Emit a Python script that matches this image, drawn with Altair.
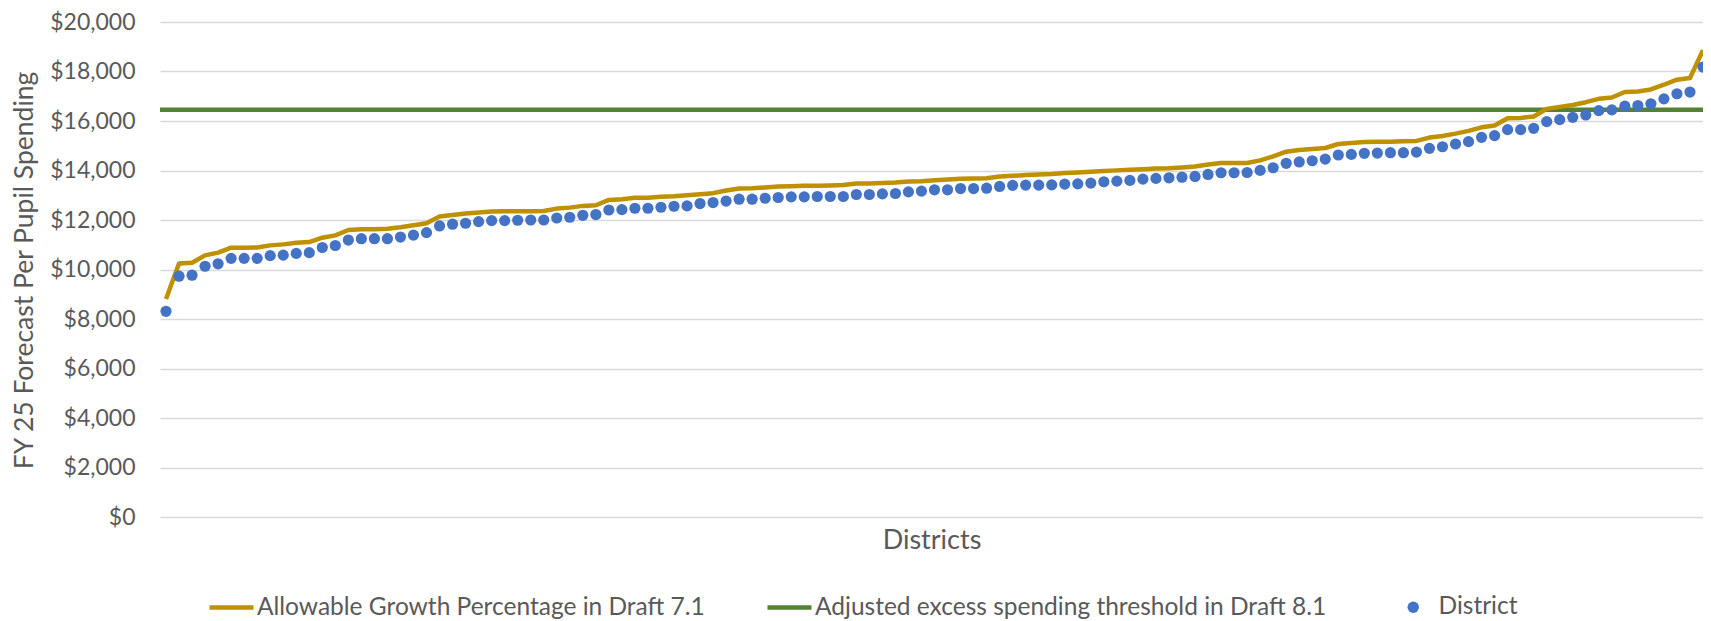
import altair as alt
import pandas as pd

# ---- data ----
district = [
    8310, 9730, 9770, 10130, 10230, 10450, 10450, 10450, 10560, 10580,
    10650, 10680, 10890, 10970, 11190, 11245, 11245, 11245, 11310, 11390,
    11490, 11760, 11830, 11870, 11935, 11975, 11975, 11990, 12000, 12000,
    12080, 12110, 12190, 12220, 12405, 12420, 12475, 12475, 12515, 12555,
    12570, 12665, 12705, 12765, 12840, 12840, 12880, 12910, 12935, 12935,
    12950, 12950, 12950, 13030, 13030, 13055, 13070, 13135, 13165, 13220,
    13220, 13270, 13270, 13285, 13355, 13400, 13410, 13410, 13420, 13450,
    13460, 13490, 13545, 13570, 13600, 13650, 13680, 13705, 13730, 13760,
    13840, 13910, 13910, 13920, 14005, 14110, 14290, 14345, 14395, 14460,
    14625, 14650, 14695, 14705, 14720, 14720, 14745, 14895, 14960, 15070,
    15165, 15340, 15410, 15650, 15650, 15705, 15975, 16055, 16150, 16245,
    16420, 16450, 16600, 16625, 16695, 16895, 17100, 17170, 18180,
]
allowable = [
    8810, 10245, 10270, 10570, 10680, 10880, 10880, 10890, 10975, 11015,
    11085, 11110, 11285, 11380, 11595, 11625, 11625, 11650, 11705, 11785,
    11865, 12140, 12205, 12260, 12300, 12340, 12355, 12355, 12355, 12365,
    12460, 12500, 12570, 12595, 12810, 12840, 12895, 12895, 12935, 12960,
    13000, 13045, 13085, 13190, 13270, 13285, 13315, 13355, 13365, 13380,
    13380, 13395, 13410, 13475, 13475, 13490, 13515, 13555, 13570, 13610,
    13640, 13665, 13680, 13690, 13760, 13785, 13815, 13840, 13855, 13895,
    13920, 13950, 13975, 14005, 14030, 14055, 14085, 14095, 14125, 14165,
    14245, 14300, 14300, 14300, 14410, 14570, 14760, 14830, 14870, 14910,
    15070, 15110, 15150, 15165, 15165, 15180, 15195, 15330, 15395, 15490,
    15600, 15745, 15815, 16110, 16125, 16180, 16490, 16570, 16645, 16760,
    16895, 16950, 17170, 17195, 17275, 17465, 17670, 17735, 18860,
]
threshold = [16450]
line_names = [
    "Allowable Growth Percentage in Draft 7.1",
    "Adjusted excess spending threshold in Draft 8.1",
]
line_colors = ["#BF9000", "#548235"]
point_name = ["District"]
point_color = ["#4472C4"]
y_ticks = [0, 2000, 4000, 6000, 8000, 10000, 12000, 14000, 16000, 18000, 20000]

n = len(district)
df = pd.DataFrame({
    "idx": list(range(n)),
    "district": district,
    "allowable": allowable,
    "series": [line_names[0]] * n,
    "pseries": point_name * n,
})
thr_df = pd.DataFrame({"threshold": threshold, "series": [line_names[1]]})

FONT = "Lato"
TXT = "#595959"
Y_TITLE = "FY 25 Forecast Per Pupil Spending"

x_scale = alt.Scale(domain=[-0.46, n - 1], nice=False, zero=False)
y_scale = alt.Scale(domain=[0, 20000], nice=False, zero=True)
color_scale = alt.Scale(domain=line_names, range=line_colors)

x_axis = alt.Axis(
    title="Districts", labels=False, ticks=False, domain=False, grid=False,
    titleFont=FONT, titleFontSize=27, titleFontWeight="normal", titleColor=TXT,
    titleY=23, titleBaseline="middle",
)
y_axis = alt.Axis(
    values=y_ticks, format="$,.0f", title=Y_TITLE,
    labelFont=FONT, labelFontSize=23, labelColor=TXT, labelPadding=25,
    ticks=False, domain=False, grid=True, gridColor="#D9D9D9", gridWidth=1.3,
    titleFont=FONT, titleFontSize=26.5, titleFontWeight="normal", titleColor=TXT,
    titleX=-128, titleY=248, titleAngle=-90, titleBaseline="alphabetic",
)

legend_lines = alt.Legend(
    title=None, orient="none", legendX=47, legendY=561, direction="horizontal",
    symbolType="stroke", symbolSize=1936, symbolStrokeWidth=4.5,
    labelFont=FONT, labelFontSize=24.5, labelColor=TXT, labelLimit=2000,
    labelOffset=1, columnPadding=53, padding=0,
)
legend_points = alt.Legend(
    title=None, orient="none", legendX=1241, legendY=573, direction="horizontal",
    symbolType="circle", symbolSize=130, symbolStrokeWidth=0,
    labelFont=FONT, labelFontSize=24.5, labelColor=TXT, labelLimit=2000,
    labelOffset=13, padding=0,
)

rule = alt.Chart(thr_df).mark_rule(strokeWidth=4.5).encode(
    y=alt.Y("threshold:Q", scale=y_scale, axis=y_axis, title=Y_TITLE),
    color=alt.Color("series:N", scale=color_scale, legend=legend_lines),
)

line = alt.Chart(df).mark_line(strokeWidth=4.5, clip=True, strokeJoin="round").encode(
    x=alt.X("idx:Q", scale=x_scale, axis=x_axis),
    y=alt.Y("allowable:Q", scale=y_scale, axis=y_axis, title=Y_TITLE),
    color=alt.Color("series:N", scale=color_scale, legend=legend_lines),
)

points = alt.Chart(df).mark_circle(size=125, opacity=1, clip=True).encode(
    x=alt.X("idx:Q", scale=x_scale, axis=x_axis),
    y=alt.Y("district:Q", scale=y_scale, axis=y_axis, title=Y_TITLE),
    fill=alt.Fill("pseries:N", scale=alt.Scale(domain=point_name, range=point_color), legend=legend_points),
)

chart = alt.layer(rule, line, points).properties(
    width=1543, height=495,
    autosize=alt.AutoSizeParams(type="none"),
    padding={"left": 152, "top": 14, "right": 0, "bottom": 104},
    background="white",
).configure_view(stroke=None)

chart.save("out.html", embed_options={"renderer": "svg", "actions": False})
